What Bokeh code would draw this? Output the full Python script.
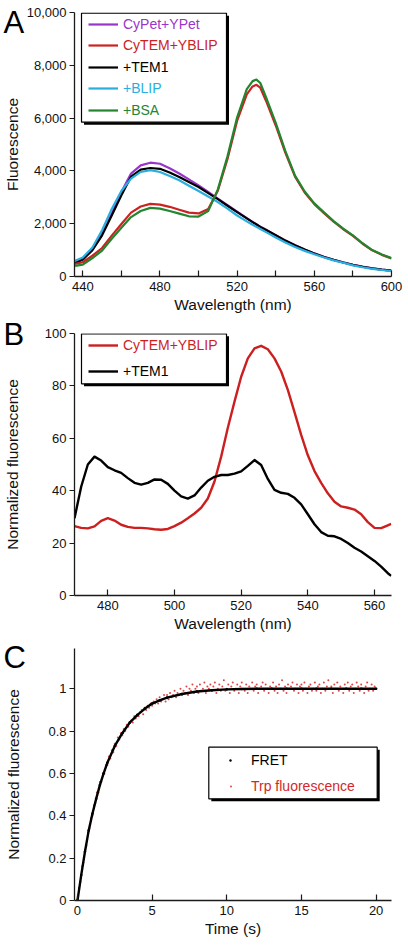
from bokeh.plotting import figure
from bokeh.models import (FixedTicker, NumeralTickFormatter, Legend, LegendItem,
                          BoxAnnotation, Range1d)
from bokeh.layouts import column
from bokeh.embed import file_html
from bokeh.resources import INLINE

FONT = "Liberation Sans"

# ---------------- Panel A data ----------------
wl_a = [436, 440, 445, 450, 455, 460, 465, 470, 475, 480, 485, 490, 495, 500, 505, 510,
        515, 520, 525, 528, 530, 532, 535, 540, 545, 550, 555, 560, 565, 570, 575, 580,
        585, 590, 595, 600]
cypet_ypet = [520, 660, 1050, 1620, 2380, 3200, 3900, 4210, 4310, 4270, 4100, 3900, 3680, 3450,
              3200, 2950, 2700, 2460, 2210, 2070, 1980, 1890, 1770, 1565, 1365, 1185, 1025, 875,
              745, 635, 535, 445, 372, 312, 262, 222]
cytem_yblip = [480, 540, 790, 1080, 1550, 1990, 2420, 2650, 2750, 2720, 2640, 2530, 2420, 2390,
               2560, 3250, 4450, 5900, 6900, 7200, 7260, 7150, 6650, 5720, 4680, 3780, 3180, 2740,
               2400, 2080, 1790, 1540, 1240, 990, 820, 680]
tem1 = [500, 640, 1000, 1560, 2310, 3080, 3780, 4050, 4110, 4080, 3940, 3770, 3580, 3390, 3160,
        2930, 2680, 2440, 2200, 2060, 1970, 1880, 1760, 1560, 1360, 1180, 1020, 870, 740, 630,
        530, 440, 370, 310, 260, 220]
blip = [600, 720, 1100, 1750, 2560, 3240, 3710, 3960, 4030, 3960, 3810, 3645, 3440, 3240, 3030,
        2820, 2570, 2310, 2090, 1960, 1880, 1800, 1680, 1480, 1290, 1120, 970, 840, 720, 610,
        520, 420, 350, 290, 245, 205]
bsa = [400, 450, 700, 980, 1430, 1850, 2250, 2480, 2600, 2570, 2480, 2380, 2280, 2270, 2480,
       3300, 4550, 6030, 7100, 7400, 7460, 7330, 6780, 5820, 4750, 3820, 3220, 2770, 2430, 2100,
       1810, 1560, 1260, 1000, 835, 695]
a_names = ["CyPet+YPet", "CyTEM+YBLIP", "+TEM1", "+BLIP", "+BSA"]
a_colors = ["#9a35cc", "#cc2222", "#000000", "#2aaee0", "#23862f"]
a_xticks = [440, 480, 520, 560, 600]
a_xminor = [460, 500, 540, 580]
a_yticks = [0, 2000, 4000, 6000, 8000, 10000]

# ---------------- Panel B data ----------------
wl_b = [470, 472, 474, 476, 478, 480, 482, 484, 486, 488, 490, 492, 494, 496, 498, 500, 502,
        504, 506, 508, 510, 512, 514, 516, 518, 520, 522, 524, 526, 528, 530, 532, 534, 536,
        538, 540, 542, 544, 546, 548, 550, 552, 554, 556, 558, 560, 562, 564, 565]
b_cytem_yblip = [26.5, 25.8, 25.6, 26.4, 28.5, 29.5, 28.6, 27.0, 26.2, 25.8, 25.8, 25.6, 25.3,
                 25.1, 25.4, 26.5, 27.8, 29.5, 31.3, 33.5, 37.0, 43.5, 53.0, 64.0, 74.0, 83.5,
                 90.5, 94.3, 95.3, 94.0, 90.5, 85.5, 78.5, 70.0, 61.3, 53.5, 47.5, 43.0, 39.0,
                 35.8, 34.0, 33.5, 32.8, 31.0, 28.0, 25.8, 25.7, 26.8, 27.3]
b_tem1 = [29.5, 41.5, 50.0, 53.0, 51.5, 49.0, 47.8, 46.8, 44.8, 43.0, 42.3, 43.0, 44.3, 44.2,
          42.6, 40.0, 37.8, 37.0, 38.2, 41.2, 43.8, 45.3, 46.0, 46.0, 46.5, 47.4, 49.5, 51.7,
          49.8, 44.5, 40.3, 39.2, 38.8, 37.3, 34.8, 31.0, 27.2, 24.2, 22.8, 22.6, 21.6, 20.0,
          18.2, 16.8, 15.0, 13.2, 11.0, 8.5, 7.5]
b_names = ["CyTEM+YBLIP", "+TEM1"]
b_colors = ["#cc1f1f", "#000000"]
b_xticks = [480, 500, 520, 540, 560]
b_yticks = [0, 20, 40, 60, 80, 100]

# ---------------- Panel C data ----------------
t_fret = [0, 0.25, 0.5, 0.75, 1, 1.25, 1.5, 1.75, 2, 2.5, 3, 3.5, 4, 4.5, 5, 5.5, 6, 7, 8, 9,
          10, 11, 12, 13, 14, 15, 16, 17, 18, 19, 20]
v_fret = [0, 0.12, 0.23, 0.33, 0.41, 0.48, 0.545, 0.60, 0.65, 0.73, 0.79, 0.84, 0.875, 0.905,
          0.93, 0.945, 0.958, 0.975, 0.987, 0.993, 0.997, 0.999, 1.0, 1.0, 1.0, 1.0, 1.0, 1.0,
          1.0, 1.0, 1.0]
t_trp = [0.0, 0.1, 0.2, 0.3, 0.4, 0.5, 0.6, 0.7, 0.8, 0.9,
         1.0, 1.1, 1.2, 1.3, 1.4, 1.5, 1.6, 1.7, 1.8, 1.9,
         2.0, 2.1, 2.2, 2.3, 2.4, 2.5, 2.6, 2.7, 2.8, 2.9,
         3.0, 3.1, 3.2, 3.3, 3.4, 3.5, 3.6, 3.7, 3.8, 3.9,
         4.0, 4.1, 4.2, 4.3, 4.4, 4.5, 4.6, 4.7, 4.8, 4.9,
         5.0, 5.1, 5.2, 5.3, 5.4, 5.5, 5.6, 5.7, 5.8, 5.9,
         6.0, 6.1, 6.2, 6.3, 6.4, 6.5, 6.6, 6.7, 6.8, 6.9,
         7.0, 7.1, 7.2, 7.3, 7.4, 7.5, 7.6, 7.7, 7.8, 7.9,
         8.0, 8.1, 8.2, 8.3, 8.4, 8.5, 8.6, 8.7, 8.8, 8.9,
         9.0, 9.1, 9.2, 9.3, 9.4, 9.5, 9.6, 9.7, 9.8, 9.9,
         10.0, 10.1, 10.2, 10.3, 10.4, 10.5, 10.6, 10.7, 10.8, 10.9,
         11.0, 11.1, 11.2, 11.3, 11.4, 11.5, 11.6, 11.7, 11.8, 11.9,
         12.0, 12.1, 12.2, 12.3, 12.4, 12.5, 12.6, 12.7, 12.8, 12.9,
         13.0, 13.1, 13.2, 13.3, 13.4, 13.5, 13.6, 13.7, 13.8, 13.9,
         14.0, 14.1, 14.2, 14.3, 14.4, 14.5, 14.6, 14.7, 14.8, 14.9,
         15.0, 15.1, 15.2, 15.3, 15.4, 15.5, 15.6, 15.7, 15.8, 15.9,
         16.0, 16.1, 16.2, 16.3, 16.4, 16.5, 16.6, 16.7, 16.8, 16.9,
         17.0, 17.1, 17.2, 17.3, 17.4, 17.5, 17.6, 17.7, 17.8, 17.9,
         18.0, 18.1, 18.2, 18.3, 18.4, 18.5, 18.6, 18.7, 18.8, 18.9,
         19.0, 19.1, 19.2, 19.3, 19.4, 19.5, 19.6, 19.7, 19.8, 19.9,
         20.0]
v_trp = [0.00, 0.06, 0.09, 0.16, 0.18, 0.24, 0.26, 0.32, 0.34, 0.39,
         0.40, 0.45, 0.46, 0.51, 0.51, 0.56, 0.56, 0.60, 0.60, 0.64,
         0.64, 0.68, 0.67, 0.71, 0.70, 0.74, 0.73, 0.77, 0.76, 0.79,
         0.78, 0.81, 0.80, 0.83, 0.82, 0.84, 0.85, 0.84, 0.87, 0.86,
         0.88, 0.87, 0.89, 0.90, 0.88, 0.91, 0.90, 0.92, 0.91, 0.93,
         0.92, 0.94, 0.93, 0.95, 0.93, 0.96, 0.94, 0.95, 0.97, 0.94,
         0.97, 0.95, 0.98, 0.96, 0.97, 0.99, 0.96, 0.98, 0.97, 1.00,
         0.97, 0.99, 0.98, 1.01, 0.97, 1.00, 0.99, 1.02, 0.98, 1.00,
         1.01, 0.98, 1.02, 0.99, 1.00, 1.03, 0.98, 1.01, 1.00, 1.02,
         0.99, 1.01, 1.03, 0.98, 1.00, 1.02, 0.99, 1.01, 1.04, 0.99,
         1.00, 1.02, 0.98, 1.01, 1.03, 0.99, 1.00, 1.02, 0.98, 1.01,
         1.03, 1.00, 0.99, 1.02, 0.98, 1.01, 1.00, 1.03, 0.99, 1.01,
         1.02, 0.98, 1.00, 1.01, 1.03, 0.99, 1.02, 1.00, 0.98, 1.01,
         1.00, 1.03, 0.99, 1.01, 0.98, 1.02, 1.00, 1.04, 0.99, 1.01,
         0.98, 1.02, 1.00, 1.01, 1.03, 0.99, 1.00, 1.02, 0.98, 1.01,
         1.02, 0.99, 1.03, 1.00, 0.98, 1.01, 1.02, 0.99, 1.00, 1.03,
         0.99, 1.01, 1.02, 0.98, 1.00, 1.03, 0.99, 1.01, 1.04, 1.00,
         1.01, 0.98, 1.02, 1.00, 1.03, 0.99, 1.01, 1.00, 0.98, 1.02,
         1.00, 1.03, 0.99, 1.01, 1.02, 0.98, 1.00, 1.03, 1.01, 0.99,
         1.02, 1.00, 0.98, 1.01, 1.03, 0.99, 1.00, 1.02, 0.99, 1.01,
         1.00]
c_names = ["FRET", "Trp fluorescence"]
c_colors = ["#000000", "#d02a2a"]
c_xticks = [0, 5, 10, 15, 20]
c_yticks = [0, 0.2, 0.4, 0.6, 0.8, 1]


def make_fig(height, xr, yr, top, bottom, right, ylabel, xlabel, ylab_standoff):
    p = figure(width=405, height=height, x_range=Range1d(*xr), y_range=Range1d(*yr),
               output_backend="svg", toolbar_location=None,
               min_border_left=73, min_border_right=right,
               min_border_top=top, min_border_bottom=bottom)
    p.outline_line_color = None
    p.grid.visible = False
    p.background_fill_color = "white"
    p.border_fill_color = "white"
    for ax in (p.xaxis[0], p.yaxis[0]):
        ax.axis_line_color = "#1a1a1a"
        ax.axis_line_width = 1.3
        ax.major_tick_line_color = "#1a1a1a"
        ax.major_tick_line_width = 1.2
        ax.minor_tick_line_color = None
        ax.major_label_text_font = FONT
        ax.major_label_text_font_size = "13px"
        ax.major_label_text_color = "#111111"
        ax.axis_label_text_font = FONT
        ax.axis_label_text_font_size = "15.5px"
        ax.axis_label_text_font_style = "normal"
        ax.axis_label_text_color = "#111111"
    xa, ya = p.xaxis[0], p.yaxis[0]
    xa.major_tick_in = 6
    xa.major_tick_out = 0
    xa.major_label_standoff = 5
    xa.axis_label = xlabel
    xa.axis_label_standoff = 2
    ya.major_tick_in = 0
    ya.major_tick_out = 5
    ya.major_label_standoff = 3
    ya.axis_label = ylabel
    ya.axis_label_standoff = ylab_standoff
    return p


def shadow_box(p, left, right, top, bottom):
    kw = dict(left_units="screen", right_units="screen", top_units="screen",
              bottom_units="screen")
    p.add_layout(BoxAnnotation(left=left + 2.5, right=right + 2.5, top=top - 2.5,
                               bottom=bottom - 2.5, fill_color="black", fill_alpha=1,
                               line_color=None, **kw))
    p.add_layout(BoxAnnotation(left=left, right=right, top=top, bottom=bottom,
                               fill_color="white", fill_alpha=1, line_color="black",
                               line_width=1.2, line_alpha=1, **kw))


def item_legend(p, renderer, label, color, x, y, glyph_w, standoff):
    leg = Legend(items=[LegendItem(label=label, renderers=[renderer])],
                 location=(x, y), padding=0, margin=0, spacing=0,
                 glyph_width=glyph_w, glyph_height=20, label_height=20,
                 label_standoff=standoff, label_text_font=FONT,
                 label_text_font_size="14px", label_text_color=color,
                 border_line_color=None, background_fill_alpha=0)
    p.add_layout(leg)


def panel_letter(p, text, standoff):
    t = p.title
    t.text = text
    t.text_font = FONT
    t.text_font_size = "31px"
    t.text_font_style = "normal"
    t.text_color = "black"
    t.align = "left"
    t.vertical_align = "bottom"
    t.offset = -71
    t.standoff = standoff


# ---------------- Panel A ----------------
pA = make_fig(316, (435.7, 600), (0, 10000), 12, 40, 14, "Fluorescence",
              "Wavelength (nm)", 3)
pA.xaxis[0].ticker = FixedTicker(ticks=a_xticks, minor_ticks=a_xminor)
pA.xaxis[0].minor_tick_line_color = "#1a1a1a"
pA.xaxis[0].minor_tick_line_width = 1.2
pA.xaxis[0].minor_tick_in = 6
pA.xaxis[0].minor_tick_out = 0
pA.yaxis[0].ticker = FixedTicker(ticks=a_yticks)
pA.yaxis[0].formatter = NumeralTickFormatter(format="0,0")

a_series = [cypet_ypet, cytem_yblip, tem1, blip, bsa]
draw_order = [0, 2, 3, 1, 4]
a_renderers = {}
for i in draw_order:
    a_renderers[i] = pA.line(wl_a, a_series[i], line_color=a_colors[i], line_width=2.2,
                             line_join="round")
shadow_box(pA, 7, 152, 263.3, 154.3)
a_rows = [242, 221, 199.3, 177.7, 156]
for i in range(5):
    item_legend(pA, a_renderers[i], a_names[i], a_colors[i], 14, a_rows[i], 30, 5)
panel_letter(pA, "A", -55)

# ---------------- Panel B ----------------
pB = make_fig(321, (470, 565.1), (0, 100), 17, 42, 14, "Normalized fluorescence",
              "Wavelength (nm)", 21)
pB.xaxis[0].ticker = FixedTicker(ticks=b_xticks)
pB.yaxis[0].ticker = FixedTicker(ticks=b_yticks)
rB_red = pB.line(wl_b, b_cytem_yblip, line_color=b_colors[0], line_width=2.4, line_join="round")
rB_blk = pB.line(wl_b, b_tem1, line_color=b_colors[1], line_width=2.4, line_join="round")
shadow_box(pB, 7, 152, 261.7, 211.7)
item_legend(pB, rB_red, b_names[0], b_colors[0], 14, 240, 30, 5)
item_legend(pB, rB_blk, b_names[1], b_colors[1], 14, 214.3, 30, 5)
panel_letter(pB, "B", -37)

# ---------------- Panel C ----------------
pC = make_fig(306, (-0.2, 21.03), (0, 1.19), 11, 43, 8, "Normalized fluorescence",
              "Time (s)", 23)
pC.xaxis[0].ticker = FixedTicker(ticks=c_xticks)
pC.yaxis[0].ticker = FixedTicker(ticks=c_yticks)
pC.yaxis[0].formatter = NumeralTickFormatter(format="0.[0]")
rC_trp = pC.scatter(t_trp, v_trp, size=2.0, marker="circle", fill_color=c_colors[1],
                    line_color=None, fill_alpha=0.85)
pC.line(t_fret, v_fret, line_color="black", line_width=2.4, line_join="round")
rC_fret = pC.scatter(t_fret, v_fret, size=2.6, marker="circle", fill_color="black",
                     line_color=None)
shadow_box(pC, 134.3, 302.7, 153.3, 101.7)
item_legend(pC, rC_fret, c_names[0], c_colors[0], 153, 130, 6, 18)
item_legend(pC, rC_trp, c_names[1], c_colors[1], 154, 104, 5, 18)
panel_letter(pC, "C", -53)

layout = column(pA, pB, pC, spacing=0)
open("out.html", "w").write(file_html(layout, INLINE))
